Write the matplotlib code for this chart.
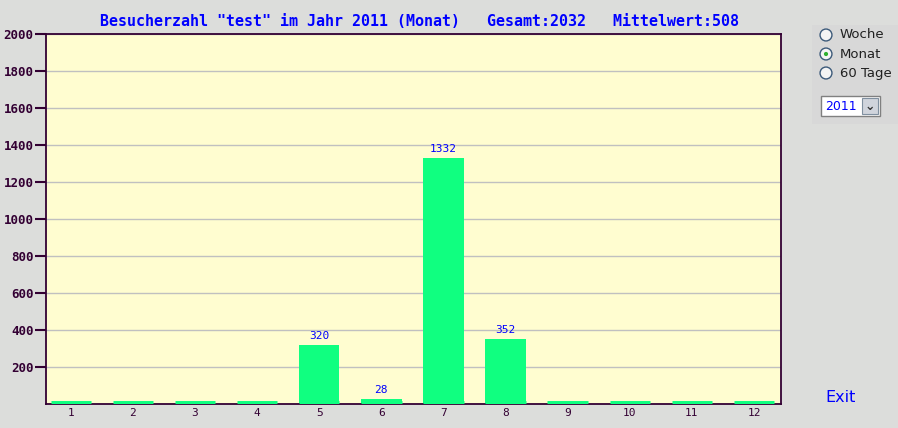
import matplotlib
matplotlib.use("Agg")
import matplotlib.pyplot as plt
from matplotlib.patches import Circle, Rectangle

months = [1, 2, 3, 4, 5, 6, 7, 8, 9, 10, 11, 12]
visits = [0, 0, 0, 0, 320, 28, 1332, 352, 0, 0, 0, 0]
yticks = [200, 400, 600, 800, 1000, 1200, 1400, 1600, 1800, 2000]
title = 'Besucherzahl "test" im Jahr 2011 (Monat)   Gesamt:2032   Mittelwert:508'

W, H = 898, 428
fig = plt.figure(figsize=(W / 100, H / 100), dpi=100, facecolor="#dcdddb")
ax = fig.add_axes([46 / W, 1 - 404 / H, (781 - 46) / W, (404 - 34) / H])
ax.set_facecolor("#fffdd0")

axis_col = "#330033"
bar_col = "#10ff80"
bw = 0.65
ax.bar(months, visits, width=bw, color=bar_col, edgecolor="none", zorder=3)
ax.hlines([0] * len(months), [m - bw / 2 for m in months],
          [m + bw / 2 for m in months], colors=bar_col, linewidth=5, zorder=4)
for m, v in zip(months, visits):
    if v > 0:
        ax.text(m, v + 22, str(v), ha="center", va="bottom", color="#0000ff",
                fontsize=8, family="DejaVu Sans Mono", zorder=5)

ax.set_xlim(0.6, 12.435)
ax.set_ylim(0, 2000)
ax.set_yticks(yticks)
ax.set_yticklabels([str(t) for t in yticks], fontsize=9, fontweight="bold",
                   family="DejaVu Sans Mono", color=axis_col)
ax.set_xticks(months)
ax.set_xticklabels([str(m) for m in months], fontsize=8,
                   family="DejaVu Sans Mono", color=axis_col)
ax.tick_params(axis="y", length=8, width=1.5, color=axis_col, pad=1)
ax.tick_params(axis="x", length=0, pad=3)
ax.grid(axis="y", color="#c0c0c0", linewidth=1, zorder=0)
ax.set_axisbelow(True)
for s in ax.spines.values():
    s.set_color(axis_col)
    s.set_linewidth(1.3)
    s.set_zorder(3.5)

fig.text(420 / W, 1 - 21 / H, title, ha="center", va="center", color="#0000ff",
         fontsize=10.8, fontweight="bold", family="DejaVu Sans Mono")

# side panel
fig.patches.append(Rectangle((812 / W, 1 - 124 / H), 86 / W, 99 / H,
                             transform=fig.transFigure, facecolor="#d8d8d8",
                             edgecolor="none", zorder=-1))
labels = ["Woche", "Monat", "60 Tage"]
ys = [35, 54, 73]
for lab, y in zip(labels, ys):
    ax_c = fig.add_axes([819 / W, 1 - (y + 7) / H, 14 / W, 14 / H])
    ax_c.set_zorder(2)
    ax_c.set_xlim(-1, 1)
    ax_c.set_ylim(-1, 1)
    ax_c.axis("off")
    ax_c.add_patch(Circle((0, 0), 0.85, facecolor="#f4f4f4",
                          edgecolor="#3c5a7a", linewidth=1))
    if lab == "Monat":
        ax_c.add_patch(Circle((0, 0), 0.3, facecolor="#30b030", edgecolor="none"))
    fig.text(840 / W, 1 - y / H, lab, ha="left", va="center", fontsize=9.5,
             color="#202020", family="DejaVu Sans")

fig.patches.append(Rectangle((821 / W, 1 - 116 / H), 59 / W, 20 / H,
                             transform=fig.transFigure, facecolor="white",
                             edgecolor="#808080", linewidth=1))
fig.patches.append(Rectangle((862 / W, 1 - 114 / H), 16 / W, 16 / H,
                             transform=fig.transFigure, facecolor="#d0d4dc",
                             edgecolor="#8090a0", linewidth=0.8))
fig.text(825 / W, 1 - 106 / H, "2011", ha="left", va="center", fontsize=9,
         color="#0000ff", family="DejaVu Sans")
fig.text(870 / W, 1 - 106 / H, "\u2304", ha="center", va="center", fontsize=9,
         color="#333333", family="DejaVu Sans", fontweight="bold")
fig.text(841 / W, 1 - 398 / H, "Exit", ha="center", va="center", fontsize=11.5,
         color="#0000ff", family="DejaVu Sans")

fig.savefig("out.png", dpi=100, facecolor=fig.get_facecolor())
